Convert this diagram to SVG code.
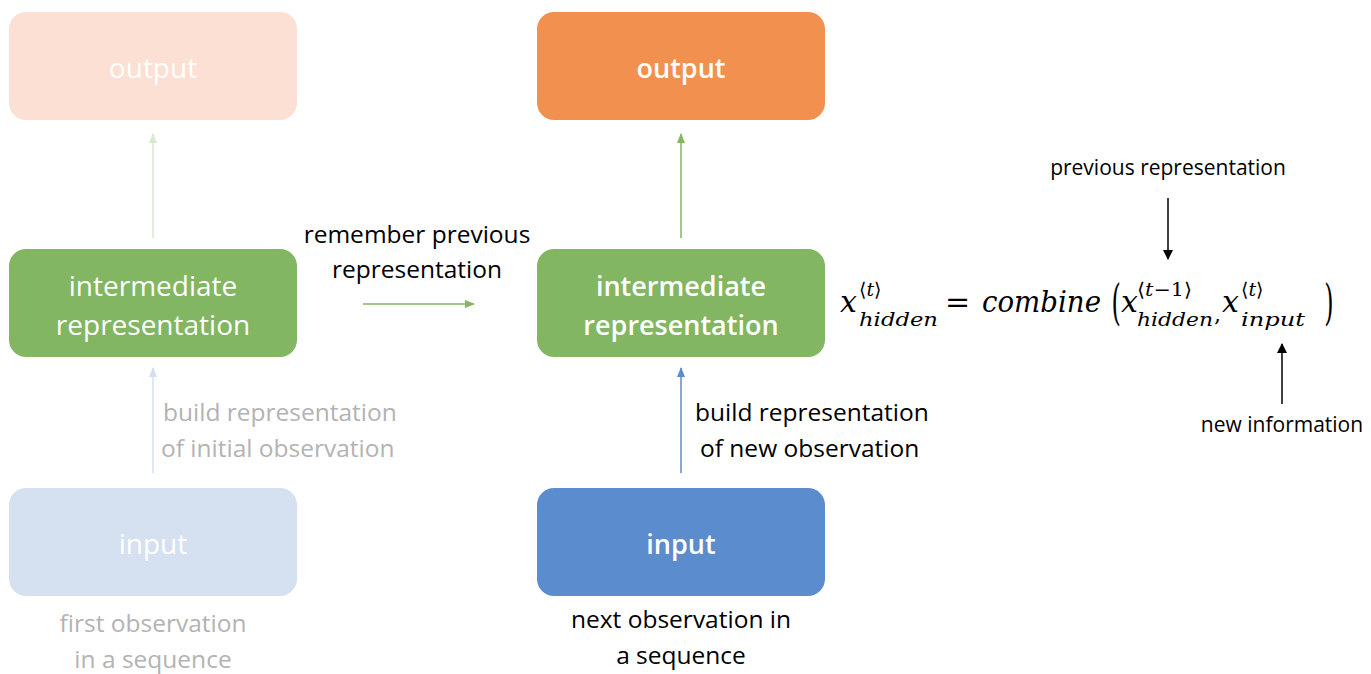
<svg xmlns="http://www.w3.org/2000/svg" width="1371" height="674" viewBox="0 0 1371 674">
<style>
.lbl{font-family:"Open Sans","Liberation Sans",sans-serif;font-size:28px;fill:#fff;text-anchor:middle}
.b{font-weight:600;font-size:27px}
.t{font-family:"Open Sans","Liberation Sans",sans-serif;font-size:24.5px}
.g{fill:#b3b3b3}
.k{fill:#000}
.m{font-family:"DejaVu Serif","Liberation Serif",serif;font-style:italic;fill:#000}
.ms{font-family:"DejaVu Serif","Liberation Serif",serif;fill:#000}
.s{font-family:"Open Sans","Liberation Sans",sans-serif;font-size:21px;fill:#000;text-anchor:middle}
</style>
<defs>
<marker id="ag" markerWidth="10" markerHeight="8" refX="9" refY="4" orient="auto" markerUnits="userSpaceOnUse"><path d="M0,0 L10,4 L0,8 z" fill="#82b662"/></marker>
<marker id="agf" markerWidth="10" markerHeight="8" refX="9" refY="4" orient="auto" markerUnits="userSpaceOnUse"><path d="M0,0 L10,4 L0,8 z" fill="#d8e9cf"/></marker>
<marker id="ab" markerWidth="10" markerHeight="8" refX="9" refY="4" orient="auto" markerUnits="userSpaceOnUse"><path d="M0,0 L10,4 L0,8 z" fill="#5b8ccd"/></marker>
<marker id="abf" markerWidth="10" markerHeight="8" refX="9" refY="4" orient="auto" markerUnits="userSpaceOnUse"><path d="M0,0 L10,4 L0,8 z" fill="#d3dff0"/></marker>
<marker id="ak" markerWidth="10" markerHeight="10" refX="9" refY="5" orient="auto" markerUnits="userSpaceOnUse"><path d="M0,0 L10,5 L0,10 z" fill="#000"/></marker>
</defs>
<rect width="1371" height="674" fill="#fff"/>

<g id="output-1"><rect x="9" y="12" width="288" height="108" rx="17" fill="#fbe0d3"/><text class="lbl" x="153" y="78">output</text></g>
<g id="intermediate-1"><rect x="9" y="249" width="288" height="108" rx="17" fill="#82b662"/><text class="lbl" x="153" y="296">intermediate</text><text class="lbl" x="153" y="335">representation</text></g>
<g id="input-1"><rect x="9" y="488" width="288" height="108" rx="17" fill="#d5e0f0"/><text class="lbl" x="153" y="554">input</text></g>

<g id="output-2"><rect x="537" y="12" width="288" height="108" rx="17" fill="#f2914f"/><text class="lbl b" x="681" y="78">output</text></g>
<g id="intermediate-2"><rect x="537" y="249" width="288" height="108" rx="17" fill="#82b662"/><text class="lbl b" x="681" y="296">intermediate</text><text class="lbl b" x="681" y="335">representation</text></g>
<g id="input-2"><rect x="537" y="488" width="288" height="108" rx="17" fill="#5b8ccd"/><text class="lbl b" x="681" y="554">input</text></g>

<g id="connectors" fill="none" stroke-width="1.5">
<line x1="153" y1="238" x2="153" y2="134" stroke="#d8e9cf" marker-end="url(#agf)"/>
<line x1="153" y1="473" x2="153" y2="368" stroke="#d3dff0" marker-end="url(#abf)"/>
<line x1="681" y1="238" x2="681" y2="134" stroke="#82b662" marker-end="url(#ag)"/>
<line x1="681" y1="473" x2="681" y2="368" stroke="#5b8ccd" marker-end="url(#ab)"/>
<line x1="363" y1="304" x2="474" y2="304" stroke="#82b662" marker-end="url(#ag)"/>
<line x1="1168" y1="198" x2="1168" y2="259" stroke="#000" marker-end="url(#ak)"/>
<line x1="1282" y1="404" x2="1282" y2="344" stroke="#000" marker-end="url(#ak)"/>
</g>

<g id="labels">
<text class="t k" x="417" y="243" text-anchor="middle">remember previous</text>
<text class="t k" x="417" y="278" text-anchor="middle">representation</text>
<text class="t g" x="163" y="421">build representation</text>
<text class="t g" x="161" y="457">of initial observation</text>
<text class="t g" x="153" y="632" text-anchor="middle">first observation</text>
<text class="t g" x="153" y="668" text-anchor="middle">in a sequence</text>
<text class="t k" x="695" y="421">build representation</text>
<text class="t k" x="700" y="457">of new observation</text>
<text class="t k" x="681" y="628" text-anchor="middle">next observation in</text>
<text class="t k" x="681" y="664" text-anchor="middle">a sequence</text>
<text class="s" x="1168" y="175">previous representation</text>
<text class="s" x="1282" y="432">new information</text>
</g>

<g id="equation">
<text class="m" x="840" y="312" font-size="30">x</text>
<text class="ms" x="859" y="296" font-size="19">⟨<tspan class="m">t</tspan>⟩</text>
<text class="m" x="859" y="326" font-size="19" textLength="79" lengthAdjust="spacingAndGlyphs">hidden</text>
<text class="ms" x="945" y="312" font-size="30">=</text>
<text class="m" x="982" y="312" font-size="30" textLength="119" lengthAdjust="spacingAndGlyphs">combine</text>
<text class="ms" x="1110" y="318" font-size="40" transform="translate(1114 312) scale(0.6 1.2) translate(-1114 -312)">(</text>
<text class="m" x="1121" y="312" font-size="30">x</text>
<text class="ms" x="1137" y="296" font-size="19" textLength="55" lengthAdjust="spacingAndGlyphs">⟨<tspan class="m">t</tspan>−1⟩</text>
<text class="m" x="1137" y="326" font-size="19" textLength="76" lengthAdjust="spacingAndGlyphs">hidden</text>
<text class="ms" x="1214" y="322" font-size="22">,</text>
<text class="m" x="1222" y="312" font-size="30">x</text>
<text class="ms" x="1241" y="296" font-size="19">⟨<tspan class="m">t</tspan>⟩</text>
<text class="m" x="1241" y="326" font-size="19" textLength="64" lengthAdjust="spacingAndGlyphs">input</text>
<text class="ms" x="1321" y="318" font-size="40" transform="translate(1329 312) scale(0.6 1.2) translate(-1329 -312)">)</text>
</g>
</svg>
